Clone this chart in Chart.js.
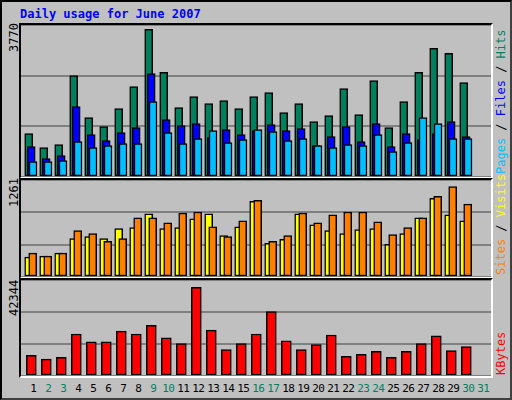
<!DOCTYPE html>
<html><head><meta charset="utf-8">
<script src="https://cdn.jsdelivr.net/npm/chart.js@4"></script>
<style>
body{margin:0;background:#fff}
#frame{position:absolute;left:0;top:0;width:508px;height:396px;background:#C0C0C0;border:2px solid #000;border-right-color:#404040;border-bottom-color:#404040;box-sizing:content-box}
.panel{position:absolute;border-top:2px solid #000;border-left:2px solid #000;border-right:2px solid #fff;border-bottom:2px solid #fff;background:#C0C0C0}
.panel canvas{position:absolute;left:0;top:0}
.mono{font-family:"DejaVu Sans Mono",monospace;position:absolute;white-space:nowrap}
.rot{transform:rotate(-90deg);transform-origin:0 0}
#title{left:20px;top:7px;font-weight:bold;font-size:12px;color:#0000FF}
.day{font-size:11px;top:382px;width:15px;text-align:center;letter-spacing:-0.5px}
</style></head><body>
<div id="frame"></div>
<div class="mono" id="title">Daily usage for June 2007</div>
<div class="panel" style="left:19px;top:23px;width:470px;height:152px"><canvas id="c1"></canvas></div>
<div class="panel" style="left:19px;top:178px;width:470px;height:97px"><canvas id="c2"></canvas></div>
<div class="panel" style="left:19px;top:278px;width:470px;height:96px"><canvas id="c3"></canvas></div>
<div class="mono rot" style="left:7px;top:52px;font-size:12px">3770</div>
<div class="mono rot" style="left:7px;top:207px;font-size:12px">1261</div>
<div class="mono rot" style="left:7px;top:316px;font-size:12px">42344</div>
<div class="mono rot" style="left:494px;top:174px;font-size:12px"><span style="color:#00C0FF">Pages</span> / <span style="color:#0000FF">Files</span> / <span style="color:#008060">Hits</span></div>
<div class="mono rot" style="left:494px;top:275px;font-size:12px"><span style="color:#FF8000">Sites</span> / <span style="color:#FFFF00">Visits</span></div>
<div class="mono rot" style="left:494px;top:375px;font-size:12px;color:#FF0000">KBytes</div>
<div id="days"></div>
<script>
const days=[1,2,3,4,5,6,7,8,9,10,11,12,13,14,15,16,17,18,19,20,21,22,23,24,25,26,27,28,29,30,31];
const weekend=[2,3,9,10,16,17,23,24,30,31];
const hits=[1109,750,827,2592,1518,1288,1748,2311,3770,2669,1774,2055,1876,1953,1748,2055,2157,1646,1876,1415,1569,2260,1595,2464,1262,1927,2669,3283,3155,2413];
const files=[776,469,546,1799,1083,929,1134,1262,2643,1467,1313,1364,1006,1211,1083,1185,1339,1185,1236,802,1032,1288,904,1364,776,1109,955,1109,1415,1032];
const pages=[392,392,418,904,750,802,853,853,1927,1134,853,981,1185,878,955,1211,1160,929,981,802,750,827,802,1083,648,878,1518,1364,981,981];
const sites=[278,291,332,537,565,537,674,688,879,674,688,810,879,578,701,1056,469,524,879,728,647,606,660,674,455,606,824,1097,865,783];
const visits=[332,291,332,647,606,496,537,824,824,756,892,906,701,565,783,1070,496,578,892,756,865,906,906,769,592,688,824,1125,1261,1015];
const kbytes=[9888,8034,8961,20085,16377,16377,21476,20085,24257,18231,15450,42344,21939,12669,15450,20085,30746,16841,12669,14987,19622,9425,10352,11742,8961,11742,15450,19158,12206,14060];

const W=470, STEP=15, FIRST=12.3;
function xAxis(o){const m=1-(FIRST+o)/STEP;return {type:'linear',display:false,offset:false,min:m,max:m+W/STEP};}
function ds(vals,color,axis,order){return {data:vals.map((v,i)=>({x:days[i],y:v})),backgroundColor:color,borderColor:'#000',borderWidth:1.5,barThickness:8,xAxisID:axis,order:order,grouped:false,borderSkipped:false};}
function make(id,h,ymax,sets,offs){
  const cv=document.getElementById(id);cv.style.width=W+'px';cv.style.height=h+'px';
  const scales={y:{min:0,max:ymax,border:{display:false},grid:{color:'#808080',lineWidth:2,drawTicks:false},ticks:{display:false,stepSize:ymax/3},afterFit(s){s.width=0}}};
  offs.forEach((o,i)=>scales['x'+i]=xAxis(o));
  new Chart(cv,{type:'bar',data:{datasets:sets},options:{responsive:false,animation:false,maintainAspectRatio:false,layout:{padding:0},plugins:{legend:{display:false},tooltip:{enabled:false}},scales}});
}
make('c1',152,3880,[ds(hits,'#00805C','x0',3),ds(files,'#0000FF','x1',2),ds(pages,'#00C0FF','x2',1)],[-4.6,-2.1,-0.3]);
make('c2',97,1352,[ds(sites,'#FFFF00','x0',2),ds(visits,'#FF8000','x1',1)],[-4.6,-0.6]);
const k=[ds(kbytes,'#FF0000','x0',1)];k[0].barThickness=10;
make('c3',96,45900,k,[-2]);
const dd=document.getElementById('days');
days.forEach(d=>{const s=document.createElement('div');s.className='mono day';s.textContent=d;s.style.left=(21+FIRST+(d-1)*STEP-7.5)+'px';s.style.color=weekend.includes(d)?'#008060':'#000';dd.appendChild(s);});
</script></body></html>
